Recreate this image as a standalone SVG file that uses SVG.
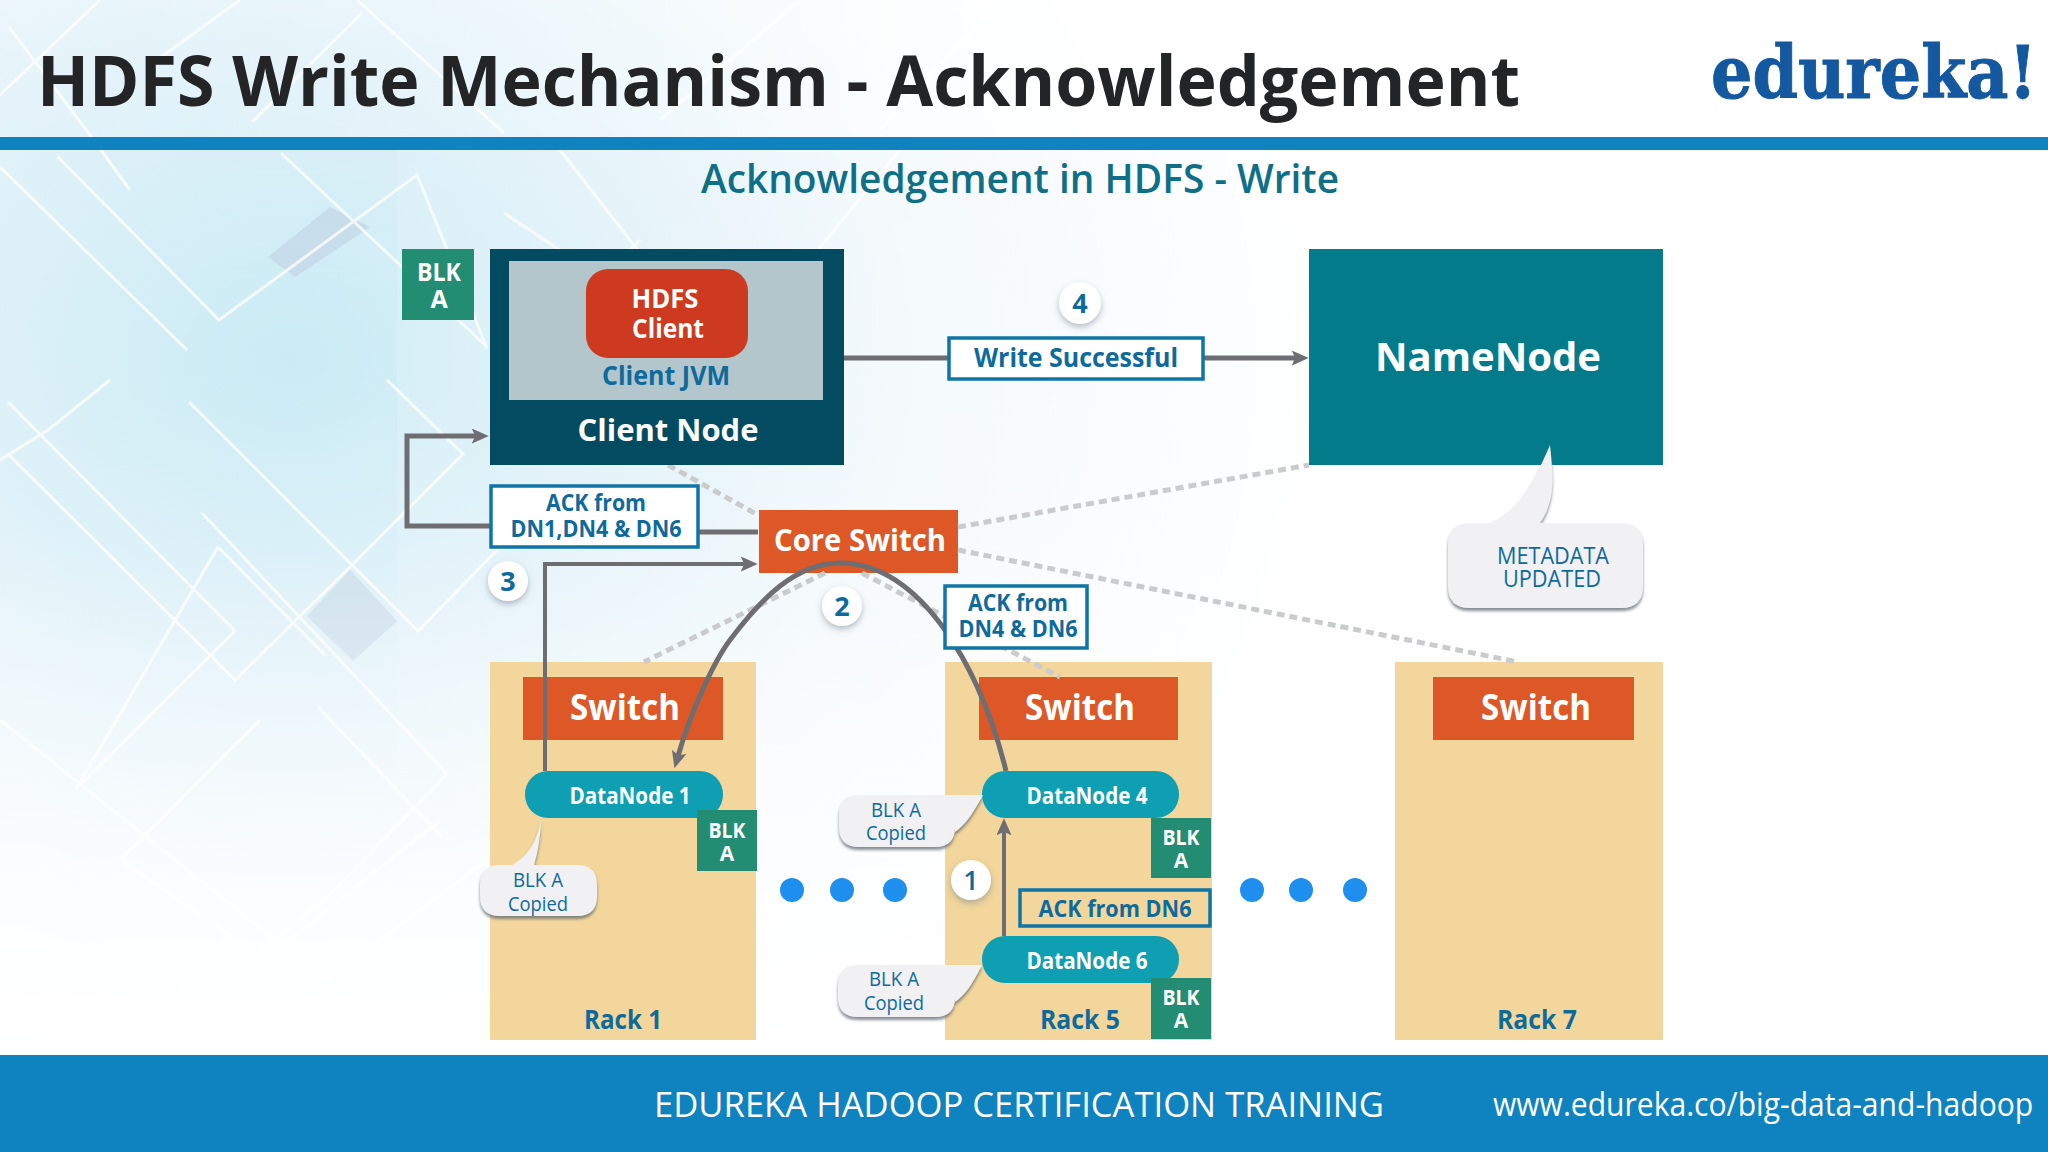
<svg xmlns="http://www.w3.org/2000/svg" width="2048" height="1152" viewBox="0 0 2048 1152">
<style>
text{font-family:"Open Sans","Noto Sans",sans-serif;text-anchor:middle}
.w{fill:#fff;font-weight:700}
.b{fill:#0f6a9c;font-weight:700}
.box{fill:#fff;stroke:#0f74a6;stroke-width:3.5}
.blk{fill:#238d74}
.rack{fill:#f2d69b}
.sw{fill:#dd5826}
.dn{fill:#0f9fb2}
.dot{fill:#1e8fee}
.conn{fill:none;stroke:#6e6e72;stroke-width:5}
.dash{fill:none;stroke:#c9cbcd;stroke-width:5;stroke-dasharray:8 5}
.co{fill:#f1f1f3;filter:url(#sh)}
.num{fill:#fff;filter:url(#sh2)}
.bg{fill:none;stroke:#fff;stroke-width:3;opacity:.75}
.cot{fill:#0f6a9c;font-weight:400}
</style>
<defs>
<radialGradient id="bgG" gradientUnits="userSpaceOnUse" cx="290" cy="360" r="1050" gradientTransform="translate(290 360) scale(1 .85) translate(-290 -360)"><stop offset="0" stop-color="#c6eaf4"/><stop offset=".3" stop-color="#dcf0f8"/><stop offset=".6" stop-color="#f3f9fc"/><stop offset="1" stop-color="#fff"/></radialGradient>
<linearGradient id="fade" x1="0" y1="0" x2="0" y2="1"><stop offset="0" stop-color="#fff" stop-opacity="0"/><stop offset=".5" stop-color="#fff" stop-opacity=".1"/><stop offset=".8" stop-color="#fff" stop-opacity=".55"/><stop offset="1" stop-color="#fff" stop-opacity="1"/></linearGradient>
<linearGradient id="hdG" x1="0" y1="0" x2="1" y2="0"><stop offset="0" stop-color="#fff" stop-opacity=".05"/><stop offset=".35" stop-color="#fff" stop-opacity=".4"/><stop offset=".6" stop-color="#fff"/></linearGradient>
<marker id="ah" viewBox="0 0 6 6" markerWidth="17" markerHeight="15" refX="1.5" refY="3" orient="auto" markerUnits="userSpaceOnUse" preserveAspectRatio="none"><path d="M0 0L6 3L0 6L1.2 3Z" fill="#6e6e72"/></marker>
<filter id="sh" x="-10%" y="-10%" width="120%" height="125%"><feDropShadow dx="0" dy="3" stdDeviation="1.5" flood-color="#55606a" flood-opacity=".7"/></filter>
<filter id="sh2" x="-30%" y="-30%" width="160%" height="170%"><feDropShadow dx="0" dy="3" stdDeviation="3" flood-color="#6a7a88" flood-opacity=".5"/></filter>
</defs>
<rect id="bg" width="2048" height="1152" fill="url(#bgG)"/>
<g id="bgpattern">
<path d="M330 207L370 227L295 277L268 257Z" fill="#bfd2e2" opacity=".65"/>
<path d="M350 570L397 621L353 661L307 616Z" fill="#bfd2e2" opacity=".6"/>
<path class="bg" d="M9 27L90 135L130 190M58 157L219 320L417 175L487 348M0 167L187 350M281 153L487 347M357 0L504 133M252 122L362 13M504 213L620 290M100 0L0 95M240 0L150 65"/>
<path class="bg" d="M8 402L235 631L76 789M8 454L235 680L352 565L463 454L387 380M0 460L48 430L110 380M189 402L418 631L500 547M202 513L447 774L333 892L250 960M318 707L443 838M218 547L76 789M218 547L325 655M0 720L200 880L400 1040M260 720L120 860L230 935L180 990M500 850L300 1000M440 820L240 980"/>
<path class="bg" d="M560 150L700 330M640 240L520 360M800 0L660 120M900 150L760 320M1000 0L880 130"/>
<rect x="0" y="0" width="2048" height="1055" fill="url(#fade)"/>
</g>
<rect width="2048" height="137" fill="url(#hdG)"/>
<rect x="397" y="150" width="1266" height="905" fill="#fff" opacity=".15"/>
<rect x="1663" y="150" width="385" height="905" fill="#fff"/>
<rect x="0" y="137" width="2048" height="13" fill="#0f83bf"/>
<rect x="0" y="1055" width="2048" height="97" fill="#0f83bf"/>
<text x="37" y="106" font-size="69" font-weight="700" fill="#222426" style="text-anchor:start" textLength="1483" lengthAdjust="spacingAndGlyphs">HDFS Write Mechanism - Acknowledgement</text>
<text transform="translate(1711 98) scale(.905 1)" font-size="72" font-weight="700" fill="#14589f" stroke="#14589f" stroke-width="1" style="font-family:'DejaVu Serif',serif;text-anchor:start">edureka!</text>
<text x="1020" y="193" font-size="40" font-weight="600" fill="#0e6f86" textLength="638" lengthAdjust="spacingAndGlyphs">Acknowledgement in HDFS - Write</text>
<text x="1019" y="1117" font-size="35" fill="#fff" textLength="730" lengthAdjust="spacingAndGlyphs">EDUREKA HADOOP CERTIFICATION TRAINING</text>
<text transform="translate(1493 1116) scale(.94 1)" font-size="32" fill="#fff" style="text-anchor:start">www.edureka.co/big-data-and-hadoop</text>

<g id="rack1"><rect class="rack" x="490" y="662" width="266" height="378"/><text class="b" x="623" y="1029" font-size="27" textLength="78" lengthAdjust="spacingAndGlyphs">Rack 1</text></g>
<g id="rack5"><rect class="rack" x="945" y="662" width="267" height="378"/><text class="b" x="1080" y="1029" font-size="27" textLength="80" lengthAdjust="spacingAndGlyphs">Rack 5</text></g>
<g id="rack7"><rect class="rack" x="1395" y="662" width="268" height="378"/><text class="b" x="1537" y="1029" font-size="27" textLength="80" lengthAdjust="spacingAndGlyphs">Rack 7</text></g>
<g id="switch1"><rect class="sw" x="523" y="677" width="200" height="63"/><text class="w" x="625" y="720" font-size="35" textLength="110" lengthAdjust="spacingAndGlyphs">Switch</text></g>
<g id="switch5"><rect class="sw" x="979" y="677" width="199" height="63"/><text class="w" x="1080" y="720" font-size="35" textLength="110" lengthAdjust="spacingAndGlyphs">Switch</text></g>
<g id="switch7"><rect class="sw" x="1433" y="677" width="201" height="63"/><text class="w" x="1536" y="720" font-size="35" textLength="110" lengthAdjust="spacingAndGlyphs">Switch</text></g>
<g id="core"><rect class="sw" x="759" y="510" width="199" height="63"/><text class="w" x="860" y="551" font-size="31" textLength="172" lengthAdjust="spacingAndGlyphs">Core Switch</text></g>

<g id="connectors">
<path class="dash" d="M668 465L758 515"/>
<path class="dash" d="M958 527L1309 465"/>
<path class="dash" d="M958 550L1518 662"/>
<path class="dash" d="M825 573L644 662"/>
<path class="dash" d="M862 573L1060 677"/>
<path class="conn" d="M844 358H948"/>
<path class="conn" marker-end="url(#ah)" d="M1204 358H1296"/>
<path class="conn" d="M699 532H758"/>
<path class="conn" marker-end="url(#ah)" d="M490 526H407V436H476"/>
<path class="conn" style="stroke-width:4" marker-end="url(#ah)" d="M545 771V564H745"/>
<path class="conn" marker-end="url(#ah)" d="M1006 771C990 705 965 658 945 630C920 595 885 563 840 563C795 563 760 600 730 640C715 660 692 708 678 756"/>
<path class="conn" style="stroke-width:4" marker-end="url(#ah)" d="M1004 936V831"/>
</g>

<g id="clientnode"><rect x="490" y="249" width="354" height="216" fill="#034b60"/><rect x="509" y="261" width="314" height="139" fill="#b2c6cc"/><rect x="586" y="269" width="162" height="89" rx="22" fill="#cd3a1f"/>
<text class="w" font-size="26"><tspan x="665" y="308" textLength="67" lengthAdjust="spacingAndGlyphs">HDFS</tspan><tspan x="668" y="338" textLength="72" lengthAdjust="spacingAndGlyphs">Client</tspan></text>
<text class="b" x="666" y="385" font-size="27" textLength="128" lengthAdjust="spacingAndGlyphs">Client JVM</text><text class="w" x="668" y="441" font-size="31" textLength="181" lengthAdjust="spacingAndGlyphs">Client Node</text></g>
<g id="blk0"><rect class="blk" x="402" y="249" width="72" height="71"/><text class="w" font-size="25"><tspan x="439" y="281" textLength="44" lengthAdjust="spacingAndGlyphs">BLK</tspan><tspan x="439" y="308">A</tspan></text></g>
<g id="namenode"><rect x="1309" y="249" width="354" height="216" fill="#047b8a"/><text class="w" x="1488" y="371" font-size="40" textLength="226" lengthAdjust="spacingAndGlyphs">NameNode</text></g>
<g id="wrok"><rect class="box" x="949" y="338" width="254" height="41"/><text class="b" x="1076" y="367" font-size="27" textLength="204" lengthAdjust="spacingAndGlyphs">Write Successful</text></g>
<g id="ack3"><rect class="box" x="491" y="486" width="207" height="61"/><text class="b" font-size="24"><tspan x="596" y="511" textLength="100" lengthAdjust="spacingAndGlyphs">ACK from</tspan><tspan x="596" y="537" textLength="171" lengthAdjust="spacingAndGlyphs">DN1,DN4 &amp; DN6</tspan></text></g>
<g id="ack2"><rect class="box" x="945" y="586" width="142" height="62"/><text class="b" font-size="24"><tspan x="1018" y="611" textLength="100" lengthAdjust="spacingAndGlyphs">ACK from</tspan><tspan x="1018" y="637" textLength="119" lengthAdjust="spacingAndGlyphs">DN4 &amp; DN6</tspan></text></g>
<g id="ack1"><rect class="box" style="fill:none" x="1020" y="890" width="190" height="36"/><text class="b" x="1115" y="917" font-size="24" textLength="153" lengthAdjust="spacingAndGlyphs">ACK from DN6</text></g>

<g id="n4"><circle class="num" cx="1080" cy="303" r="21"/><text class="b" x="1080" y="313" font-size="27">4</text></g>
<g id="n3"><circle class="num" cx="508" cy="581" r="20"/><text class="b" x="508" y="591" font-size="27">3</text></g>
<g id="n2"><circle class="num" cx="842" cy="606" r="20"/><text class="b" x="842" y="616" font-size="27">2</text></g>
<g id="n1"><circle class="num" cx="971" cy="880" r="20"/><text class="b" x="971" y="890" font-size="27" style="font-weight:600">1</text></g>

<g id="dn1"><rect class="dn" x="525" y="771" width="198" height="47" rx="23"/><text class="w" x="630" y="804" font-size="23" textLength="121" lengthAdjust="spacingAndGlyphs">DataNode 1</text></g>
<g id="dn4"><rect class="dn" x="982" y="771" width="197" height="47" rx="23"/><text class="w" x="1087" y="804" font-size="23" textLength="121" lengthAdjust="spacingAndGlyphs">DataNode 4</text></g>
<g id="dn6"><rect class="dn" x="982" y="936" width="197" height="47" rx="23"/><text class="w" x="1087" y="969" font-size="23" textLength="121" lengthAdjust="spacingAndGlyphs">DataNode 6</text></g>
<g id="blk1"><rect class="blk" x="697" y="810" width="60" height="61"/><text class="w" font-size="21"><tspan x="727" y="838" textLength="37" lengthAdjust="spacingAndGlyphs">BLK</tspan><tspan x="727" y="861">A</tspan></text></g>
<g id="blk4"><rect class="blk" x="1151" y="818" width="60" height="60"/><text class="w" font-size="21"><tspan x="1181" y="845" textLength="37" lengthAdjust="spacingAndGlyphs">BLK</tspan><tspan x="1181" y="868">A</tspan></text></g>
<g id="blk6"><rect class="blk" x="1151" y="978" width="60" height="61"/><text class="w" font-size="21"><tspan x="1181" y="1005" textLength="37" lengthAdjust="spacingAndGlyphs">BLK</tspan><tspan x="1181" y="1028">A</tspan></text></g>

<g id="co1"><path class="co" d="M541 820C537 840 530 855 512 865H577Q597 865 597 885V896Q597 916 577 916H500Q480 916 480 896V885Q480 865 500 865H534Q540 845 541 820Z"/><text class="cot" font-size="20"><tspan x="538" y="887" textLength="50" lengthAdjust="spacingAndGlyphs">BLK A</tspan><tspan x="538" y="911" textLength="60" lengthAdjust="spacingAndGlyphs">Copied</tspan></text></g>
<g id="co4"><path class="co" d="M983 795C972 815 965 825 955 832V827Q955 847 935 847H859Q839 847 839 827V815Q839 795 859 795H960Z"/><text class="cot" font-size="20"><tspan x="896" y="817" textLength="50" lengthAdjust="spacingAndGlyphs">BLK A</tspan><tspan x="896" y="840" textLength="60" lengthAdjust="spacingAndGlyphs">Copied</tspan></text></g>
<g id="co6"><path class="co" d="M982 965C972 985 965 995 955 1002V997Q955 1017 935 1017H858Q838 1017 838 997V985Q838 965 858 965H960Z"/><text class="cot" font-size="20"><tspan x="894" y="986" textLength="50" lengthAdjust="spacingAndGlyphs">BLK A</tspan><tspan x="894" y="1010" textLength="60" lengthAdjust="spacingAndGlyphs">Copied</tspan></text></g>
<g id="meta"><path class="co" d="M1550 445C1553 475 1556 500 1540 523H1621Q1643 523 1643 545V586Q1643 608 1621 608H1470Q1448 608 1448 586V545Q1448 523 1470 523H1490C1520 510 1535 480 1550 445Z"/><text class="cot" font-size="23"><tspan x="1553" y="564" textLength="112" lengthAdjust="spacingAndGlyphs">METADATA</tspan><tspan x="1552" y="587" textLength="98" lengthAdjust="spacingAndGlyphs">UPDATED</tspan></text></g>

<g id="dots"><circle class="dot" cx="792" cy="890" r="12"/><circle class="dot" cx="842" cy="890" r="12"/><circle class="dot" cx="895" cy="890" r="12"/><circle class="dot" cx="1252" cy="890" r="12"/><circle class="dot" cx="1301" cy="890" r="12"/><circle class="dot" cx="1355" cy="890" r="12"/></g>
</svg>
